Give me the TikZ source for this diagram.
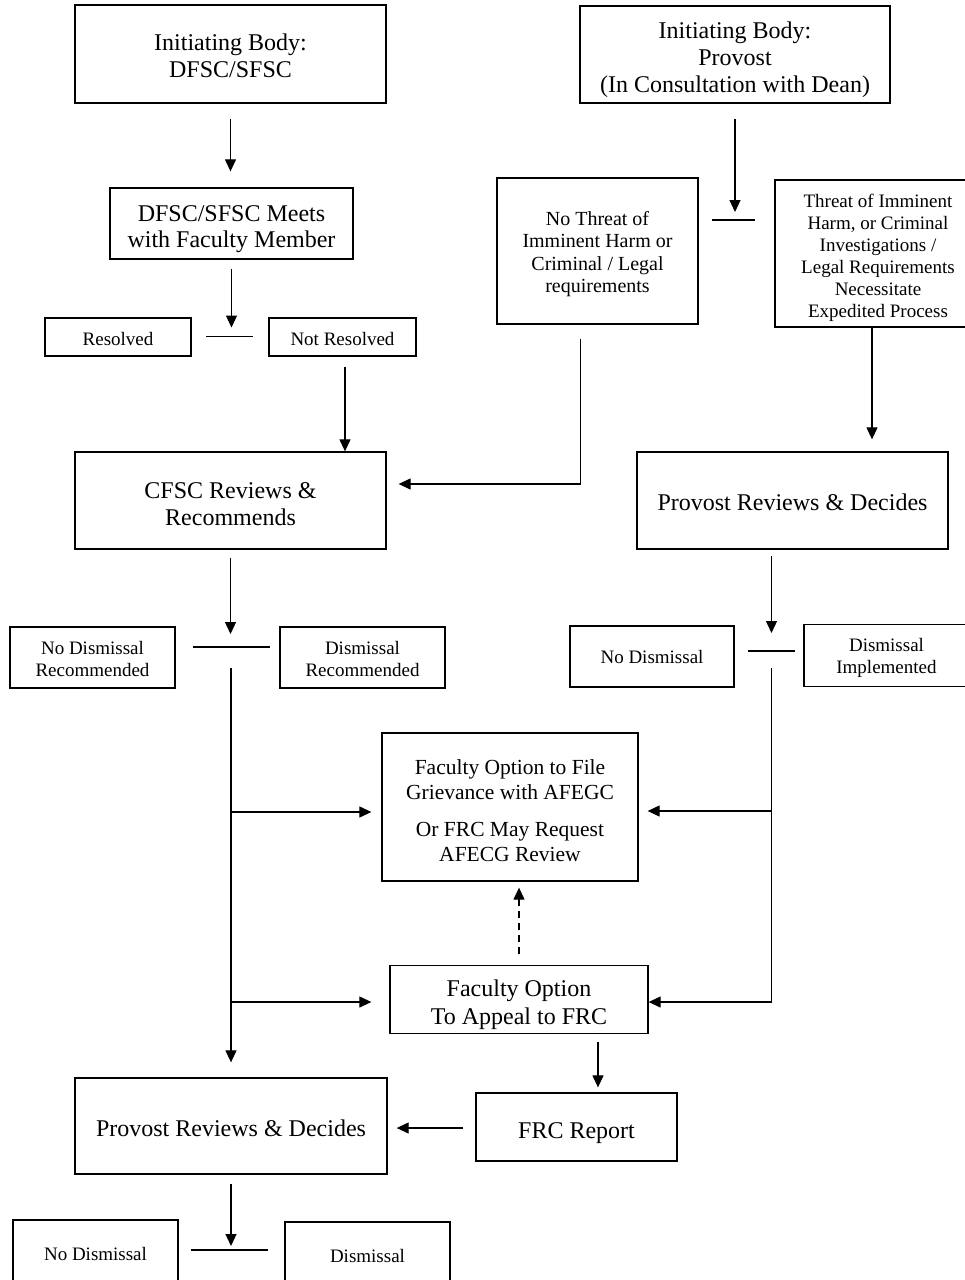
\documentclass[tikz,border=0pt]{standalone}
\usepackage{fontspec}
\setmainfont{Liberation Serif}
\usetikzlibrary{arrows.meta,calc}
% strut that pushes a node text down by #1 pt
\newcommand{\lift}[1]{\rule{0pt}{\dimexpr 0.7em+#1pt*2\relax}}

\begin{document}
\begin{tikzpicture}[x=1pt,y=-1pt,
    box/.style={draw,line width=1.3pt,inner sep=0pt,align=center},
    bigtxt/.style={font=\fontsize{24}{27}\selectfont},
    midtxt/.style={font=\fontsize{21.5}{25}\selectfont},
    smalltxt/.style={font=\fontsize{19}{22}\selectfont},
    arr/.style={line width=1.2pt,-{Triangle[length=12pt,width=11pt]}},
    bar/.style={line width=1.8pt}]
                \clip (0,0) rectangle (965,1280);

                % initiating bodies
                \node[box,bigtxt,minimum width=311pt,minimum height=98pt] (initA) at (230.5,54) {\lift{2}Initiating Body:\\DFSC/SFSC};
                \node[box,bigtxt,minimum width=310pt,minimum height=97pt] (initB) at (735,54.5) {\lift{5}Initiating Body:\\Provost\\(In Consultation with Dean)};

                \node[box,font=\fontsize{24}{26}\selectfont,minimum width=243pt,minimum height=71pt] (meets) at (231.5,223.5) {\lift{5}DFSC/SFSC Meets\\with Faculty Member};
                \node[box,smalltxt,minimum width=146pt,minimum height=38pt] (resolved) at (118,337) {\lift{2}Resolved};
                \node[box,smalltxt,minimum width=147pt,minimum height=38pt] (notres) at (342.5,337) {\lift{2}Not Resolved};

                \node[box,font=\fontsize{20}{22.5}\selectfont,minimum width=201pt,minimum height=146pt] (nothreat) at (597.5,251) {\lift{3}No Threat of\\Imminent Harm or\\Criminal / Legal\\requirements};
                \node[box,smalltxt,minimum width=206pt,minimum height=147pt] (threat) at (878,253.5) {\lift{4}Threat of Imminent\\Harm, or Criminal\\Investigations /\\Legal Requirements\\Necessitate\\Expedited Process};

                \node[box,bigtxt,minimum width=311pt,minimum height=97pt] (cfsc) at (230.5,500.5) {\lift{3}CFSC Reviews \&\\Recommends};
                \node[box,bigtxt,minimum width=311pt,minimum height=97pt] (provR) at (792.5,500.5) {\lift{2}Provost Reviews \& Decides};

                \node[box,smalltxt,minimum width=165pt,minimum height=61pt] (nodisrec) at (92.5,657.5) {\lift{1}No Dismissal\\Recommended};
                \node[box,smalltxt,minimum width=165pt,minimum height=61pt] (disrec) at (362.5,657.5) {\lift{1}Dismissal\\Recommended};
                \node[box,smalltxt,minimum width=164pt,minimum height=61pt] (nodisR) at (652,656.5) {\lift{0}No Dismissal};
                \node[box,smalltxt,minimum width=165pt,minimum height=62pt] (disimp) at (886.5,655.5) {\lift{2}Dismissal\\Implemented};

                \node[box,midtxt,minimum width=256pt,minimum height=148pt] (afegc) at (510,807) {\lift{4}Faculty Option to File\\Grievance with AFEGC\\[12pt]Or FRC May Request\\AFECG Review};
                \node[box,font=\fontsize{24}{28}\selectfont,minimum width=258pt,minimum height=68pt] (appeal) at (519,999.5) {\lift{5}Faculty Option\\To Appeal to FRC};
                \node[box,bigtxt,minimum width=201pt,minimum height=68pt] (frc) at (576.5,1127) {\lift{6}FRC Report};
                \node[box,bigtxt,minimum width=312pt,minimum height=96pt] (provB) at (231,1126) {\lift{2}Provost Reviews \& Decides};

                \node[box,smalltxt,minimum width=165pt,minimum height=61pt] (nodisB) at (95.5,1250.5) {\lift{3}No Dismissal};
                \node[box,smalltxt,minimum width=165pt,minimum height=61pt] (disB) at (367.5,1252.5) {\lift{3}Dismissal};

                % split bars
                \coordinate (barA) at (229.5,336.5);
                \coordinate (barB) at (733.5,220);
                \coordinate (barC) at (231,647);
                \coordinate (barD) at (771.5,651);
                \coordinate (barE) at (229,1250);
                \foreach \b/\w in {barA/23.5,barB/21.5,barC/38.5,barD/23.5,barE/38.5}
                \draw[bar] ($(\b)-(\w,0)$) -- ($(\b)+(\w,0)$);

                \draw[arr,shorten <=15pt,shorten >=16pt] (initA.south) -- (initA.south |- meets.north);
                \draw[arr,shorten <=9pt,shorten >=9pt] (meets.south) -- (meets.south |- barA);
                \draw[arr,shorten <=15pt,shorten >=8pt] (initB.south) -- (initB.south |- barB);
                \draw[arr,shorten <=10pt] ($(notres.south)+(2.5,0)$) -- ($(cfsc.north)+(114.5,0)$);
                \draw[arr] ($(nothreat.south)+(-17,14)$) |- ($(cfsc.east)+(12,-16.5)$);
                \draw[arr] ($(threat.south)+(-6,0)$) -- ($(provR.north)+(79.5,-12)$);

                \draw[arr,shorten <=8pt,shorten >=13pt] (cfsc.south) -- (cfsc.south |- barC);
                \draw[arr] ($(provR.south)+(-21,6)$) -- ($(barD)+(0,-18)$);

                % branches to the options
                \coordinate (tipL1) at ($(afegc.west)+(-10,5)$);
                \coordinate (tipL2) at ($(appeal.west)+(-18,2.5)$);
                \coordinate (tipR1) at ($(afegc.east)+(9,4)$);
                \coordinate (tipR2) at ($(appeal.east)+(0,2.5)$);
                \draw[arr] ($(barC)+(0,21)$) -- ($(provB.north)+(0,-15)$);
                \draw[arr] (barC |- tipL1) -- (tipL1);
                \draw[arr] (barC |- tipL2) -- (tipL2);
                \draw[arr] ($(barD)+(0,17)$) |- (tipR2);
                \draw[arr] (barD |- tipR1) -- (tipR1);
                \draw[arr,dash pattern=on 7pt off 5pt] ($(appeal.north)+(0,-10.5)$) -- ($(afegc.south)+(9,6)$);

                \draw[arr] ($(appeal.south)+(79,7.5)$) -- ($(frc.north)+(21.5,-5)$);
                \draw[arr] ($(frc.west)+(-12,1)$) -- ($(provB.east)+(9,2)$);
                \draw[arr,shorten <=9pt,shorten >=4pt] (provB.south) -- (provB.south |- barE);

            \end{tikzpicture}
\end{document}
